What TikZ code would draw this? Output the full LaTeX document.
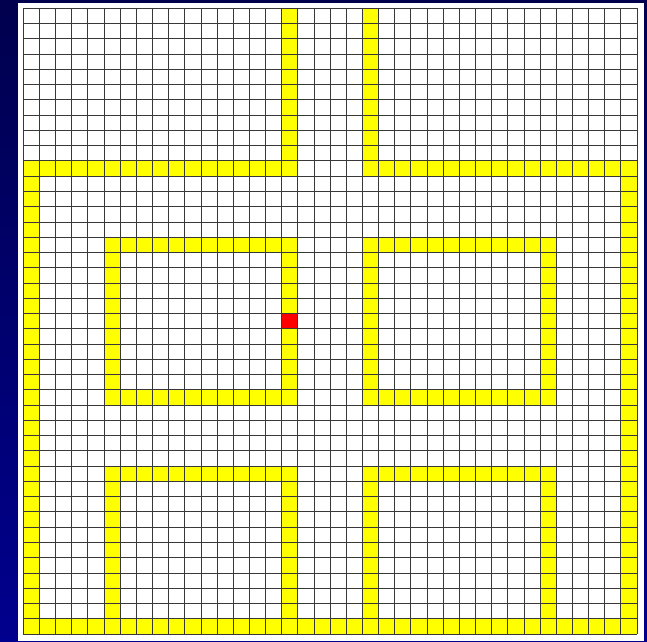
\documentclass[tikz,border=0pt]{standalone}
\usepackage{xcolor}
\usepackage{tikz}
\usetikzlibrary{
  positioning,
  calc
}

\definecolor{fundoTopo}{RGB}{0,0,78}
\definecolor{fundoBase}{RGB}{0,0,142}
\definecolor{amarelo}{RGB}{255,255,0}
\definecolor{alvoVermelho}{RGB}{255,0,0}

\begin{document}
\begin{tikzpicture}[
    x=1pt,
    y=-1pt,
    quadro/.style={
        fill=white,
        draw=none
    },
    caminho/.style={
        fill=amarelo,
        draw=none
    },
    alvo/.style={
        fill=alvoVermelho,
        draw=none
    },
    linha/.style={
        draw=black!78,
        line width=0.85pt
    }
]

% ============================================================
% FUNDO
% ============================================================

\useasboundingbox (0,0) rectangle (647,641);
\shade[top color=fundoTopo, bottom color=fundoBase] (0,0) rectangle (647,641);
\fill[quadro] (18.3,3.3) rectangle (644.3,641);

% ============================================================
% GRADE (38 x 41 celulas)
% ============================================================

\begin{scope}[xshift=23.3pt, yshift=-8.3pt, x=16.15pt, y=-15.26pt]

% corredores
\foreach \xa/\ya/\xb/\yb in {
    16/0/17/11, 21/0/22/11,
    0/10/17/11, 21/10/38/11,
    0/10/1/41, 37/10/38/41, 0/40/38/41,
    5/15/17/16, 5/25/17/26, 5/15/6/26, 16/15/17/26,
    21/15/33/16, 21/25/33/26, 21/15/22/26, 32/15/33/26,
    5/30/17/31, 5/30/6/41, 16/30/17/41,
    21/30/33/31, 21/30/22/41, 32/30/33/41}
    \fill[caminho] (\xa,\ya) rectangle (\xb,\yb);

% celula marcada
\fill[alvo] (16,20) rectangle (17,21);

% linhas
\foreach \c in {0,...,38}
    \draw[linha] (\c,0) -- (\c,41);
\foreach \r in {0,...,41}
    \draw[linha] (0,\r) -- (38,\r);

\end{scope}

\end{tikzpicture}
\end{document}
